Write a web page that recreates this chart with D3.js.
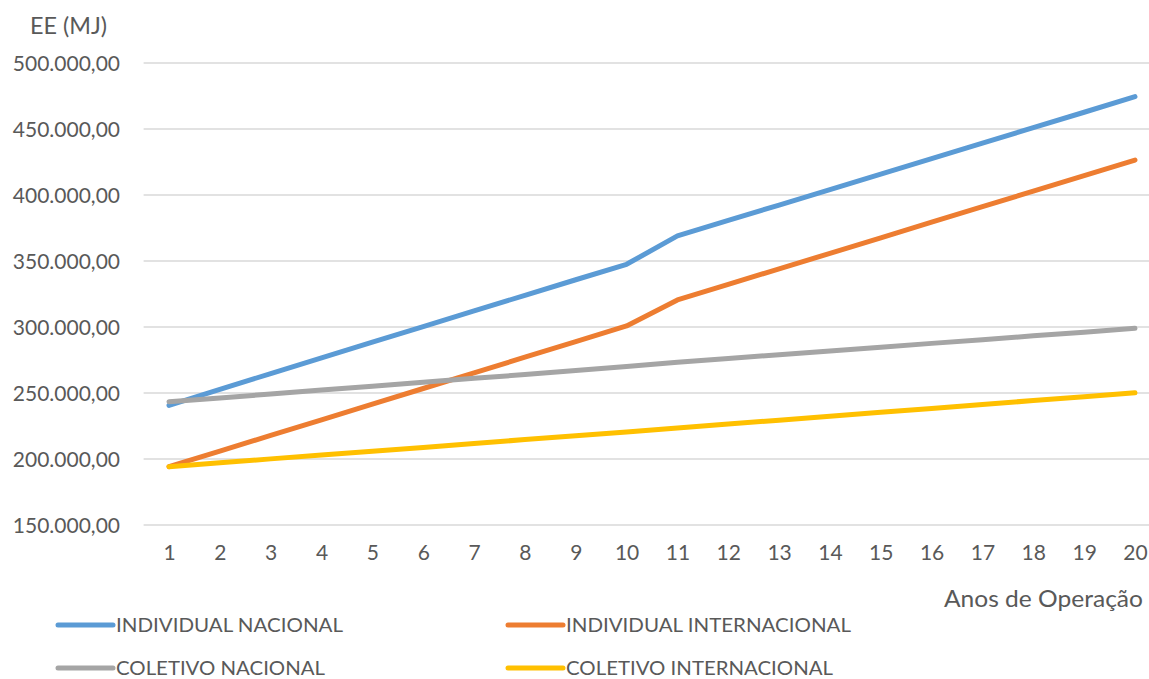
<!DOCTYPE html>
<html>
<head>
<meta charset="utf-8">
<script src="https://cdn.jsdelivr.net/npm/d3@7"></script>
<style>
  html, body { margin: 0; padding: 0; background: #fff; }
  svg { display: block; }
  text { font-family: Lato, "Open Sans", sans-serif; fill: #595959; }
</style>
</head>
<body>
<script>
const years = [1,2,3,4,5,6,7,8,9,10,11,12,13,14,15,16,17,18,19,20];
const yTicks = [150000,200000,250000,300000,350000,400000,450000,500000];
const seriesNames = ["INDIVIDUAL NACIONAL","INDIVIDUAL INTERNACIONAL","COLETIVO NACIONAL","COLETIVO INTERNACIONAL"];
const individualNacional = [240600,252800,264700,276600,288500,300300,312200,324000,335800,347500,369000,380700,392400,404100,415800,427600,439300,451000,462700,474500];
const individualInternacional = [194200,206000,217900,229700,241600,253400,265200,277100,288900,300800,320500,332300,344100,355800,367600,379400,391200,402900,414700,426500];
const coletivoNacional = [243400,246300,249200,252200,255100,258100,261100,264000,267000,270000,273300,276200,279000,281900,284700,287600,290400,293300,296100,299000];
const coletivoInternacional = [194200,197100,200100,203000,205900,208800,211800,214700,217600,220500,223500,226500,229400,232400,235400,238300,241300,244300,247200,250200];
const colors = ["#5B9BD5","#ED7D31","#A5A5A5","#FFC000"];
const yTitle = "EE (MJ)";
const xTitle = "Anos de Operação";

const W = 1149, H = 679;
const svg = d3.select("body").append("svg").attr("width", W).attr("height", H);

const x = d3.scalePoint().domain(years).range([143.6, 1160.4]).padding(0.5);
const y = d3.scaleLinear().domain([150000, 500000]).range([525, 63]);
const fmt = v => d3.format(",.2f")(v).replace(/,/g, "X").replace(/\./g, ",").replace(/X/g, ".");

// gridlines
svg.append("g").selectAll("line").data(yTicks).join("line")
  .attr("x1", 143.6).attr("x2", 1160.4)
  .attr("y1", d => y(d)).attr("y2", d => y(d))
  .attr("stroke", "#D9D9D9").attr("stroke-width", 1.5);

// y axis labels
const yAxis = d3.axisLeft(y).tickValues(yTicks).tickFormat(fmt).tickSize(0).tickPadding(0);
const gy = svg.append("g").attr("transform", "translate(120,0)").call(yAxis);
gy.select(".domain").remove();
gy.selectAll("text").style("font-size", "21px").attr("fill", "#595959").attr("font-family", "Lato, sans-serif").attr("dy", "0.36em");

// x axis labels
const xAxis = d3.axisBottom(x).tickSize(0).tickPadding(0);
const gx = svg.append("g").attr("transform", "translate(0,545)").call(xAxis);
gx.select(".domain").remove();
gx.selectAll("text").style("font-size", "21px").attr("fill", "#595959").attr("font-family", "Lato, sans-serif").attr("dy", "0.71em");

// titles
svg.append("text").attr("x", 30).attr("y", 34).style("font-size", "23px")
  .attr("textLength", 77).attr("lengthAdjust", "spacingAndGlyphs").text(yTitle);
svg.append("text").attr("x", 944).attr("y", 607).style("font-size", "23px")
  .attr("textLength", 199).attr("lengthAdjust", "spacingAndGlyphs").text(xTitle);

// lines
const allSeries = [individualNacional, individualInternacional, coletivoNacional, coletivoInternacional];
const line = d3.line().x((d, i) => x(years[i])).y(d => y(d));
svg.append("g").selectAll("path").data(allSeries).join("path")
  .attr("d", d => line(d))
  .attr("fill", "none")
  .attr("stroke", (d, i) => colors[i])
  .attr("stroke-width", 5)
  .attr("stroke-linecap", "round")
  .attr("stroke-linejoin", "round");

// legend
const legPos = [[58, 625], [508, 625], [58, 668], [508, 668]];
const legW = [227, 285, 209, 267];
const lg = svg.append("g").selectAll("g").data(seriesNames).join("g")
  .attr("transform", (d, i) => `translate(${legPos[i][0]},${legPos[i][1]})`);
lg.append("line").attr("x1", 0).attr("x2", 55).attr("y1", 0).attr("y2", 0)
  .attr("stroke", (d, i) => colors[i]).attr("stroke-width", 5).attr("stroke-linecap", "round");
lg.append("text").attr("x", 58).attr("y", 0).attr("dy", "0.36em")
  .style("font-size", "20px")
  .attr("textLength", (d, i) => legW[i]).attr("lengthAdjust", "spacingAndGlyphs")
  .text(d => d);
</script>
</body>
</html>
